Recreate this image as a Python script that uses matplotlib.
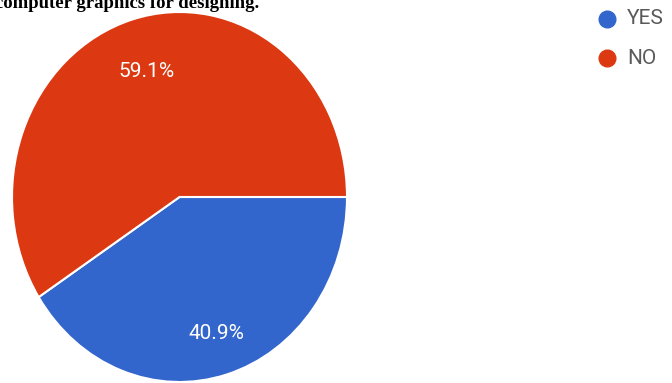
import matplotlib.pyplot as plt

labels = ['YES', 'NO']
shares = [40.9, 59.1]
colors = ['#3366cc', '#dc3912']

W, H = 672, 383
fig = plt.figure(figsize=(W / 100, H / 100), dpi=100)

# the pie is slightly taller than wide
ax = fig.add_axes([12 / W, 1 / H, 335 / W, 370 / H])
wedges, texts, autotexts = ax.pie(
    shares, colors=colors, startangle=0, counterclock=False,
    autopct='%.1f%%', pctdistance=0.74,
    wedgeprops=dict(edgecolor='white', linewidth=1.5),
    textprops=dict(color='white', fontsize=15, family='Roboto'))
ax.set_aspect('auto')
ax.set_xlim(-1, 1)
ax.set_ylim(-1, 1)
# nudge the percentage labels down a little
for t in autotexts:
    x, y = t.get_position()
    t.set_position((x + 0.01, y - 0.03))

# title, clipped at the top edge
fig.text(-5 / W, 1 - 8 / H, 'computer graphics for designing.',
         family='Liberation Serif', weight='bold', fontsize=13.5,
         ha='left', va='baseline')

# legend drawn in pixel coordinates
lg = fig.add_axes([0, 0, 1, 1], zorder=5)
lg.set_xlim(0, W)
lg.set_ylim(H, 0)
lg.axis('off')
for i, (lab, c) in enumerate(zip(labels, colors)):
    y = 19 + i * 39
    lg.plot(607, y, 'o', markersize=12, color=c)
    lg.text(627, y, lab, fontsize=15, family='Roboto', color='#5a5a5a',
            va='center', ha='left')

fig.savefig('out.png', dpi=100)
